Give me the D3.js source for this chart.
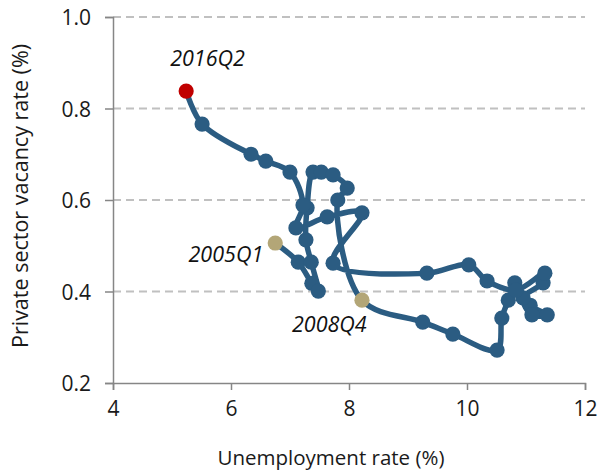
<!DOCTYPE html>
<html>
<head>
<meta charset="utf-8">
<script src="https://cdn.jsdelivr.net/npm/d3@7"></script>
<style>
  html, body { margin: 0; padding: 0; background: #fff; }
  svg { display: block; }
</style>
</head>
<body>
<svg id="chart" width="598" height="470"></svg>
<script>
// Connected scatter: unemployment rate (%) vs private sector vacancy rate (%), 2005Q1 -> 2016Q2
const unemployment = [
  6.75, 7.14, 7.37, 7.48, 7.36, 7.27, 7.29, 7.39, 7.53, 7.73, 7.97, 7.81, 8.22,
  9.25, 9.76, 10.51, 10.59, 10.70, 10.81, 11.07, 11.36, 11.10, 10.95, 11.29, 11.32,
  10.83, 10.34, 10.03, 9.32, 7.73, 8.22, 7.63, 7.10, 7.22, 7.00, 6.59, 6.34, 5.51, 5.24
];
const vacancy = [
  0.506, 0.464, 0.418, 0.401, 0.464, 0.513, 0.583, 0.661, 0.661, 0.655, 0.626, 0.600, 0.381,
  0.333, 0.307, 0.272, 0.342, 0.381, 0.419, 0.370, 0.349, 0.349, 0.386, 0.419, 0.440,
  0.403, 0.423, 0.458, 0.440, 0.462, 0.572, 0.563, 0.539, 0.589, 0.661, 0.685, 0.700, 0.766, 0.838
];
const highlightLabels = ["2005Q1", "2008Q4", "2016Q2"];
const highlightIndex = [0, 12, unemployment.length - 1];
const xTicks = [4, 6, 8, 10, 12];
const yTicks = [0.2, 0.4, 0.6, 0.8, 1.0];
const xTitle = "Unemployment rate (%)";
const yTitle = "Private sector vacancy rate (%)";

(function () {
const data = unemployment.map((u, i) => ({ x: u, y: vacancy[i] }));

const svg = d3.select("#chart");
const mL = 113, mR = 585, mT = 17, mB = 383;
const font = "'Open Sans', 'Liberation Sans', sans-serif";

const x = d3.scaleLinear().domain([4, 12]).range([mL, mR]);
const y = d3.scaleLinear().domain([0.2, 1.0]).range([mB, mT]);

// gridlines
svg.append("g")
  .selectAll("line")
  .data(yTicks.filter(t => t > 0.2))
  .join("line")
  .attr("x1", mL).attr("x2", mR)
  .attr("y1", d => y(d)).attr("y2", d => y(d))
  .attr("stroke", "#c0c0c0")
  .attr("stroke-width", 1.8)
  .attr("stroke-dasharray", "8,5");

// axes
const xAxis = svg.append("g")
  .attr("transform", `translate(0,${mB})`)
  .call(d3.axisBottom(x).tickValues(xTicks).tickFormat(d3.format("d")).tickSizeOuter(0).tickSize(7).tickPadding(11));
const yAxis = svg.append("g")
  .attr("transform", `translate(${mL},0)`)
  .call(d3.axisLeft(y).tickValues(yTicks).tickFormat(d3.format(".1f")).tickSizeOuter(0).tickSize(8).tickPadding(14));

[xAxis, yAxis].forEach(g => {
  g.select(".domain").attr("stroke", "#868686").attr("stroke-width", 1.5);
  g.selectAll(".tick line").attr("stroke", "#868686").attr("stroke-width", 1.5);
  g.selectAll(".tick text")
    .attr("font-family", font)
    .attr("font-size", 21)
    .attr("fill", "#1a1a1a");
});
yAxis.selectAll(".tick text").attr("dy", "0.36em");

// axis titles
svg.append("text")
  .attr("x", (mL + mR) / 2 - 18)
  .attr("y", 465)
  .attr("text-anchor", "middle")
  .attr("font-family", font)
  .attr("font-size", 20.5)
  .attr("fill", "#1a1a1a")
  .text(xTitle);

svg.append("text")
  .attr("transform", `translate(28,${(mT + mB) / 2 - 4}) rotate(-90)`)
  .attr("text-anchor", "middle")
  .attr("font-family", font)
  .attr("font-size", 21.5)
  .attr("fill", "#1a1a1a")
  .text(yTitle);

// path
const line = d3.line()
  .x(d => x(d.x))
  .y(d => y(d.y))
  .curve(d3.curveCatmullRom.alpha(0.5));

svg.append("path")
  .datum(data)
  .attr("d", line)
  .attr("fill", "none")
  .attr("stroke", "#2b5c82")
  .attr("stroke-width", 5.5)
  .attr("stroke-linejoin", "round")
  .attr("stroke-linecap", "round");

svg.append("g")
  .selectAll("circle")
  .data(data.filter((d, i) => !highlightIndex.includes(i)))
  .join("circle")
  .attr("cx", d => x(d.x))
  .attr("cy", d => y(d.y))
  .attr("r", 7.6)
  .attr("fill", "#2b5c82");

const hlColors = ["#b3a677", "#b3a677", "#c00000"];
const hlOffsets = [[-12, 19, "end"], [-70, 32, "start"], [-16, -25, "start"]];
highlightIndex.forEach((idx, k) => {
  const d = data[idx];
  svg.append("circle")
    .attr("cx", x(d.x)).attr("cy", y(d.y))
    .attr("r", 7.6)
    .attr("fill", hlColors[k]);
  svg.append("text")
    .attr("x", x(d.x) + hlOffsets[k][0])
    .attr("y", y(d.y) + hlOffsets[k][1])
    .attr("text-anchor", hlOffsets[k][2])
    .attr("font-family", font)
    .attr("font-style", "italic")
    .attr("font-size", 21.5)
    .attr("fill", "#111")
    .text(highlightLabels[k]);
});
})();
</script>
</body>
</html>
